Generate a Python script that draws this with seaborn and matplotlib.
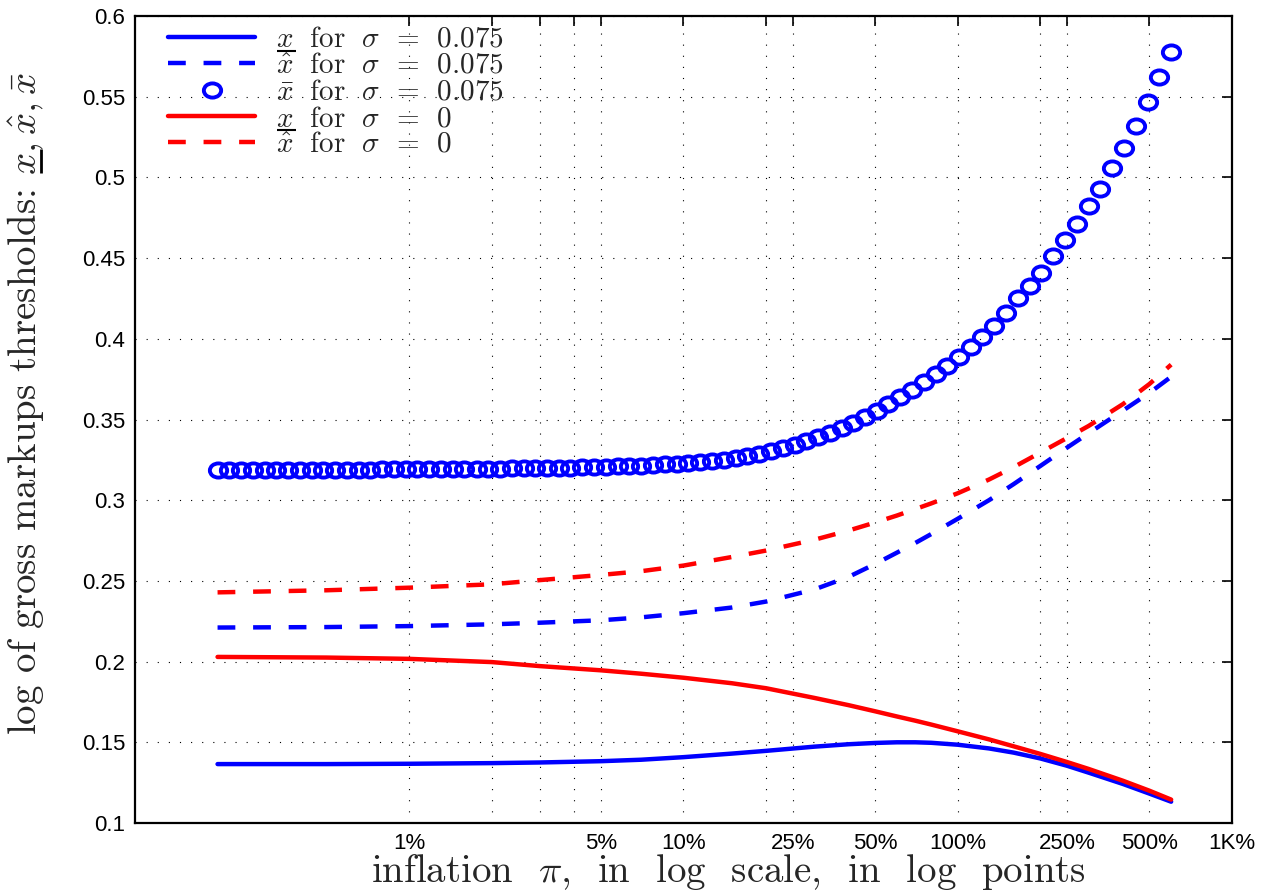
import numpy as np
import pandas as pd
import matplotlib
matplotlib.use('Agg')
import matplotlib.pyplot as plt
import matplotlib.ticker as mticker
from matplotlib.markers import MarkerStyle
from matplotlib.transforms import Affine2D
from matplotlib.lines import Line2D
import seaborn as sns

# inflation (in %) of the circle series
infl_circ = [0.200, 0.221, 0.244, 0.269, 0.297, 0.328, 0.362, 0.399, 0.441, 0.486,
             0.537, 0.593, 0.654, 0.722, 0.797, 0.880, 0.972, 1.07, 1.18, 1.31,
             1.44, 1.59, 1.76, 1.94, 2.14, 2.36, 2.61, 2.88, 3.18, 3.51,
             3.87, 4.27, 4.72, 5.21, 5.75, 6.35, 7.01, 7.74, 8.54, 9.43,
             10.4, 11.5, 12.7, 14.0, 15.5, 17.1, 18.9, 20.8, 23.0, 25.4,
             28.0, 30.9, 34.1, 37.7, 41.6, 45.9, 50.7, 55.9, 61.7, 68.2,
             75.2, 83.1, 91.7, 101, 112, 123, 136, 150, 166, 183,
             202, 223, 246, 272, 300, 331, 365, 403, 445, 492,
             543, 600]
xbar_075 = [0.3187, 0.3189, 0.319, 0.319, 0.319, 0.319, 0.319, 0.319, 0.319, 0.319,
            0.319, 0.319, 0.319, 0.319, 0.3191, 0.3191, 0.3192, 0.3192, 0.3193, 0.3193,
            0.3194, 0.3194, 0.3195, 0.3195, 0.3196, 0.3197, 0.3198, 0.3199, 0.3200, 0.3201,
            0.3202, 0.3203, 0.3205, 0.3207, 0.3209, 0.3212, 0.3215, 0.3218, 0.3222, 0.3226,
            0.3231, 0.3237, 0.3244, 0.3252, 0.3262, 0.3274, 0.3288, 0.3304, 0.3322, 0.3342,
            0.3365, 0.3390, 0.3418, 0.3448, 0.3480, 0.3515, 0.3553, 0.3593, 0.3637, 0.3683,
            0.3731, 0.3781, 0.3834, 0.3890, 0.3950, 0.4012, 0.4080, 0.4160, 0.4253, 0.4330,
            0.4410, 0.4510, 0.4610, 0.4710, 0.4820, 0.4930, 0.5060, 0.5180, 0.5320, 0.5470,
            0.5620, 0.5780]

# inflation (in %) of the line series
infl = [0.2, 0.5, 1, 2, 3, 5, 7, 10, 15, 20, 30, 40, 50, 60, 70, 80,
        100, 130, 160, 200, 250, 300, 400, 500, 600]
xlow_075 = [0.1365, 0.1365, 0.1367, 0.1371, 0.1375, 0.1383, 0.1392, 0.1408, 0.1430, 0.1447,
            0.1473, 0.1488, 0.1496, 0.1500, 0.1500, 0.1497, 0.1485, 0.1462, 0.1436, 0.1400,
            0.1355, 0.1312, 0.1242, 0.1182, 0.1132]
xhat_075 = [0.2211, 0.2214, 0.2220, 0.2231, 0.2241, 0.2256, 0.2274, 0.2300, 0.2335, 0.2372,
            0.2447, 0.2525, 0.2605, 0.2675, 0.2735, 0.2790, 0.2885, 0.3000, 0.3100, 0.3212,
            0.3325, 0.3415, 0.3555, 0.3665, 0.3765]
xlow_0 = [0.2029, 0.2025, 0.2017, 0.1997, 0.1972, 0.1946, 0.1925, 0.1900, 0.1866, 0.1835,
          0.1775, 0.1730, 0.1692, 0.1660, 0.1634, 0.1610, 0.1568, 0.1518, 0.1475, 0.1428,
          0.1378, 0.1335, 0.1262, 0.1200, 0.1145]
xhat_0 = [0.2429, 0.2442, 0.2458, 0.2479, 0.2505, 0.2537, 0.2560, 0.2595, 0.2648, 0.2688,
          0.2755, 0.2812, 0.2862, 0.2905, 0.2945, 0.2980, 0.3043, 0.3128, 0.3205, 0.3295,
          0.3385, 0.3460, 0.3595, 0.3720, 0.3840]

xticks = [1, 2, 3, 4, 5, 10, 20, 25, 50, 100, 200, 250, 500, 1000]
xtick_labels = ['1%', '', '', '', '5%', '10%', '', '25%', '50%', '100%', '', '250%', '500%', '1K%']
yticks = [0.1, 0.15, 0.2, 0.25, 0.3, 0.35, 0.4, 0.45, 0.5, 0.55, 0.6]
ytick_labels = ['0.1', '0.15', '0.2', '0.25', '0.3', '0.35', '0.4', '0.45', '0.5', '0.55', '0.6']

sns.set_style('white')
plt.rcParams['mathtext.fontset'] = 'cm'
plt.rcParams['font.family'] = ['Liberation Sans', 'DejaVu Sans']
plt.rcParams['axes.unicode_minus'] = False

serif = ['cmr10', 'DejaVu Serif']
# first and fourth entries get an underline under the x (added after layout)
labels = [r'$x\ \ \mathrm{for}\ \ \sigma\ \,=\ \,0.075$',
          r'$\hat{x}\ \ \mathrm{for}\ \ \sigma\ \,=\ \,0.075$',
          r'$\bar{x}\ \ \mathrm{for}\ \ \sigma\ \,=\ \,0.075$',
          r'$x\ \ \mathrm{for}\ \ \sigma\ \,=\ \,0$',
          r'$\hat{x}\ \ \mathrm{for}\ \ \sigma\ \,=\ \,0$']
ylab_pre = r'log of gross markups thresholds: '
ylab = ylab_pre + r'$x, \hat{x}, \bar{x}$'

fig = plt.figure(figsize=(12.79, 8.90), dpi=100)
ax = fig.add_axes([0.10555, 0.07528, 0.85770, 0.90674])

lw = 3.2
sns.lineplot(x=infl, y=xlow_075, color='#0000ff', lw=lw, ax=ax, label=labels[0])
sns.lineplot(x=infl, y=xhat_075, color='#0000ff', lw=lw, linestyle=(0, (4, 4)),
             ax=ax, label=labels[1])
oval = MarkerStyle('o', transform=Affine2D().scale(1.22, 1.0))
sns.lineplot(x=infl_circ, y=xbar_075, color='#0000ff', linestyle='none', marker=oval,
             markersize=10.2, mfc='none', mec='#0000ff', mew=2.8, ax=ax, label=labels[2])
sns.lineplot(x=infl, y=xlow_0, color='#ff0000', lw=lw, ax=ax, label=labels[3])
sns.lineplot(x=infl, y=xhat_0, color='#ff0000', lw=lw, linestyle=(0, (4, 4)),
             ax=ax, label=labels[4])

ax.set_xscale('log')
ax.set_xlim(0.1, 1000)
ax.set_ylim(0.1, 0.6)
ax.set_xticks(xticks)
ax.set_xticklabels(xtick_labels)
ax.xaxis.set_minor_locator(mticker.NullLocator())
ax.set_yticks(yticks)
ax.set_yticklabels(ytick_labels)

ax.tick_params(axis='both', direction='in', length=7, width=1.2, colors='black',
               labelsize=16, top=True, right=True)
ax.tick_params(axis='x', pad=7.5)
ax.tick_params(axis='y', pad=7)
ax.set_axisbelow(True)
ax.grid(True, which='major', color='black', lw=0.8, linestyle=(0, (1, 9)))
for sp in ax.spines.values():
    sp.set_visible(True)
    sp.set_color('black')
    sp.set_linewidth(1.6)

ax.set_xlabel(r'inflation  $\pi$,  in  log  scale,  in  log  points', fontsize=28,
              family=serif)
ax.xaxis.set_label_coords(0.5406, -0.036)
ax.set_ylabel(ylab, fontsize=28, family=serif)
ax.yaxis.set_label_coords(-0.081, 0.52)

handles, _ = ax.get_legend_handles_labels()
leg = ax.legend(handles, labels, loc='upper left', bbox_to_anchor=(0.030, 0.987),
                frameon=False, borderpad=0, borderaxespad=0, handlelength=3.0,
                handletextpad=0.72, labelspacing=0.0,
                prop={'family': serif, 'size': 21})

# underlines for the lower threshold x (mathtext has no \underline)
fig.canvas.draw()
rend = fig.canvas.get_renderer()
to_fig = fig.transFigure.inverted()


def add_rule(p0, p1, width):
    (a, b), (c, d) = to_fig.transform([p0, p1])
    fig.add_artist(Line2D([a, c], [b, d], transform=fig.transFigure,
                          color='black', lw=width, solid_capstyle='butt'))


def descent(text, prop):
    # text boxes keep at least the descent of "lp" below the baseline
    _, _, d_txt = rend.get_text_width_height_descent(text, prop, ismath=True)
    _, _, d_lp = rend.get_text_width_height_descent('lp', prop, ismath=False)
    return max(d_txt, d_lp)


for t in [leg.get_texts()[0], leg.get_texts()[3]]:
    prop = t.get_fontproperties()
    em = prop.get_size_in_points() * fig.dpi / 72
    wx, _, _ = rend.get_text_width_height_descent('$x$', prop, ismath=True)
    bb = t.get_window_extent(rend)
    yb = bb.y0 + descent(t.get_text(), prop) - 0.13 * em
    add_rule((bb.x0 + 0.02 * em, yb), (bb.x0 + wx + 0.08 * em, yb), 1.5)

yl = ax.yaxis.label
prop = yl.get_fontproperties()
em = prop.get_size_in_points() * fig.dpi / 72
wx, _, _ = rend.get_text_width_height_descent('$x$', prop, ismath=True)
wpx, _, _ = rend.get_text_width_height_descent(ylab_pre + '$x$', prop, ismath=True)
bb = yl.get_window_extent(rend)
xb = bb.x1 - descent(ylab, prop) + 0.13 * em
add_rule((xb, bb.y0 + wpx - wx + 0.02 * em), (xb, bb.y0 + wpx + 0.06 * em), 2.0)

fig.savefig('out.png', dpi=100)
